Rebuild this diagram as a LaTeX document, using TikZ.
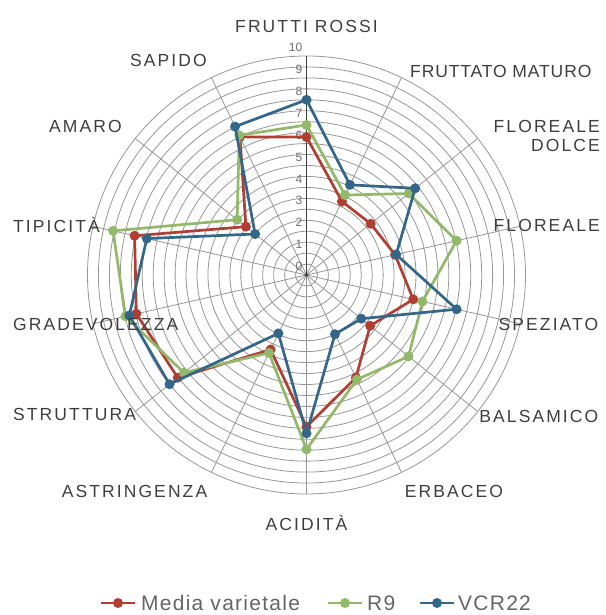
\documentclass[tikz,border=0pt]{standalone}
\usepackage{fontspec}
\setmainfont{Liberation Sans}
\newfontfamily\axisfont[LetterSpace=12]{Liberation Sans}
\newfontfamily\axisfonttight[LetterSpace=5]{Liberation Sans}
\newfontfamily\legendfont[LetterSpace=6]{Liberation Sans}
\usetikzlibrary{positioning}

\definecolor{mediared}{RGB}{176,62,50}
\definecolor{rninegreen}{RGB}{146,184,106}
\definecolor{vcrblue}{RGB}{52,102,138}
\definecolor{gridgray}{RGB}{150,150,150}
\definecolor{labelgray}{RGB}{62,62,62}
\definecolor{tickgray}{RGB}{110,110,110}

\newcommand{\radarunit}{21.9}

\tikzset{
  ring/.style={gridgray, line width=0.8pt},
  spoke/.style={gridgray, line width=0.8pt},
  valueaxis/.style={black!75, line width=1pt},
  series/.style={line width=2.7pt, line join=round},
  dot/.style={circle, fill, inner sep=0pt, minimum size=10pt},
  axislabel/.style={font=\axisfont\fontsize{17.5}{20}\selectfont, text=labelgray, inner sep=0pt},
  ticklabel/.style={font=\fontsize{12}{14}\selectfont, text=tickgray, inner sep=0pt, anchor=east},
  legendlabel/.style={font=\legendfont\fontsize{21}{24}\selectfont, text=labelgray!80, inner sep=0pt}
}

\begin{document}
\begin{tikzpicture}[x=1pt,y=1pt]
\useasboundingbox (-306.5,-340) rectangle (298.5,275);

%Grid Rings
\foreach \r in {1,...,20}
	\draw[ring] (0,0) circle ({\r*\radarunit/2});

%Spokes
\foreach \i in {0,...,13}
	\draw[spoke] (0,0) -- ({90-\i*360/14}:{10*\radarunit});
\draw[valueaxis] (0,0) -- (0,{10*\radarunit});
\fill[black!80] (0,0) circle (1.6);

%Scale Labels
\foreach \v in {0,...,10}
	\node[ticklabel] (tick\v) at (-4,{\v*\radarunit+8.5}) {\v};

%Media varietale
\foreach \v [count=\i from 0] in {6.3,3.73,3.75,4.15,5.0,3.72,5.2,6.93,3.78,7.52,7.97,8.05,3.54,7.0}
	\coordinate (red\i) at ({90-\i*360/14}:{\v*\radarunit});
\draw[series, mediared] (red0) \foreach \i in {1,...,13}{ -- (red\i)} -- cycle;
\foreach \i in {0,...,13}
	\node[dot, mediared] (reddot\i) at (red\i) {};

%R9
\foreach \v [count=\i from 0] in {6.85,4.05,5.97,7.03,5.43,5.96,5.3,7.96,3.95,7.16,8.48,9.06,4.05,7.08}
	\coordinate (green\i) at ({90-\i*360/14}:{\v*\radarunit});
\draw[series, rninegreen] (green0) \foreach \i in {1,...,13}{ -- (green\i)} -- cycle;
\foreach \i in {0,...,13}
	\node[dot, rninegreen] (greendot\i) at (green\i) {};

%VCR22
\foreach \v [count=\i from 0] in {8.0,4.57,6.35,4.2,7.03,3.2,3.0,7.23,2.96,8.0,8.3,7.48,3.0,7.52}
	\coordinate (blue\i) at ({90-\i*360/14}:{\v*\radarunit});
\draw[series, vcrblue] (blue0) \foreach \i in {1,...,13}{ -- (blue\i)} -- cycle;
\foreach \i in {0,...,13}
	\node[dot, vcrblue] (bluedot\i) at (blue\i) {};

%Axis Labels
\foreach \n/\a/\p/\t in {
	fr/base/{0,242}/FRUTTI ROSSI,
	fd/base east/{293.5,142}/FLOREALE,
	fdb/base east/{293.5,123}/DOLCE,
	fl/base east/{293.5,43}/FLOREALE,
	sp/base east/{292,-55}/SPEZIATO,
	ba/base east/{292,-147}/BALSAMICO,
	er/base/{147.5,-222}/ERBACEO,
	ac/base/{0,-255}/ACIDITÀ,
	as/base/{-172,-222}/ASTRINGENZA,
	st/base west/{-293.5,-145}/STRUTTURA,
	gr/base west/{-293.5,-55}/GRADEVOLEZZA,
	ti/base west/{-293.5,42}/TIPICITÀ,
	am/base east/{-184.5,142}/AMARO,
	sa/base east/{-99.5,208}/SAPIDO}
	\node[axislabel, anchor=\a] (lab\n) at (\p) {\t};
\node[axislabel, anchor=base west] (labfm) at (103.5,197) {\axisfonttight FRUTTATO MATURO};

%Legend
\node[dot, mediared] (legred) at (-188.5,-328) {};
\draw[series, mediared] ([xshift=-17pt]legred.center) -- ([xshift=17pt]legred.center);
\node[legendlabel, right=23pt of legred.center] (legredtext) {Media varietale};
\node[dot, rninegreen] (leggreen) at (38.5,-328) {};
\draw[series, rninegreen] ([xshift=-17pt]leggreen.center) -- ([xshift=17pt]leggreen.center);
\node[legendlabel, right=22pt of leggreen.center] (leggreentext) {R9};
\node[dot, vcrblue] (legblue) at (130.5,-328) {};
\draw[series, vcrblue] ([xshift=-17pt]legblue.center) -- ([xshift=17pt]legblue.center);
\node[legendlabel, right=21pt of legblue.center] (legbluetext) {VCR22};
\end{tikzpicture}
\end{document}
